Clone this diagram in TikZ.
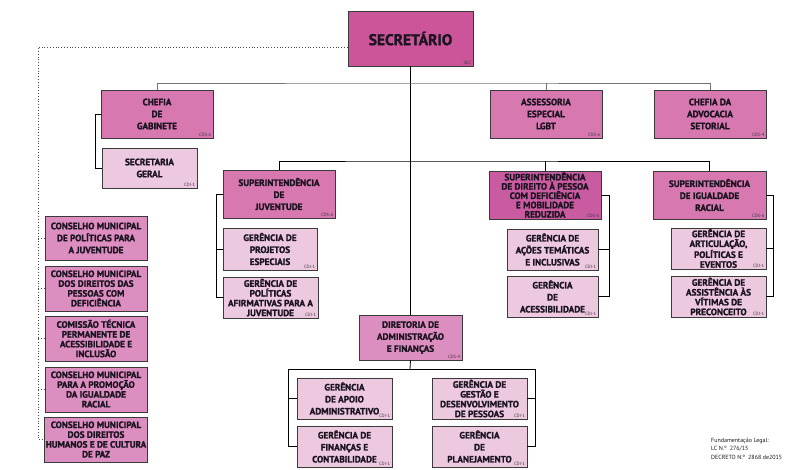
\documentclass[tikz,border=0pt]{standalone}
\usepackage{fontspec}
\setmainfont{PT Sans}[BoldFeatures={FakeBold=1.6}]
\usepackage{tikz}
\usetikzlibrary{positioning, shadows}
\definecolor{secpink}{HTML}{CC5599}
\definecolor{mainpink}{HTML}{D778B1}
\definecolor{deeppink}{HTML}{C95BA1}
\definecolor{conspink}{HTML}{DD8EC0}
\definecolor{lightpink}{HTML}{EDC9DF}
\definecolor{boxline}{HTML}{3A3A3A}
\definecolor{textdark}{HTML}{1C1420}
\tikzstyle{block} = [draw=boxline, line width=0.9pt, rectangle, align=center, inner sep=1pt, text=textdark, font=\bfseries\fontsize{9.2}{12}\selectfont, drop shadow={shadow xshift=0.8pt, shadow yshift=-0.8pt, fill=black!30}]
\tikzstyle{sup} = [block, fill=mainpink, minimum width=112pt, minimum height=48pt]
\tikzstyle{ger} = [block, fill=lightpink, minimum width=95pt, minimum height=41pt]
\tikzstyle{cons} = [block, fill=conspink, minimum width=102pt, minimum height=45pt]
\tikzstyle{tight} = [font=\bfseries\fontsize{9.2}{9.8}\selectfont]
\tikzstyle{tagtext} = [anchor=south east, inner sep=2pt, text=textdark!85, font=\fontsize{4.6}{5}\selectfont]
\tikzstyle{link} = [draw=black, line width=0.8pt]

\begin{document}
\begin{tikzpicture}[x=1pt, y=-1pt]
    \useasboundingbox (0,0) rectangle (801,469);
    % top
    \node[block, fill=secpink, minimum width=125pt, minimum height=55pt, font=\bfseries\fontsize{15.5}{17}\selectfont] (sec) at (410.5,38.5) {SECRETÁRIO};
    \node[tagtext] (sectag) at (sec.south east) {SEC};
    % second level
    \node[sup] (gab) at (157,114) {CHEFIA\\DE\\GABINETE};
    \node[tagtext] (gabtag) at (gab.south east) {CDS-6};
    \node[ger, fill=lightpink, minimum width=95pt, minimum height=40pt] (sg) at (149.5,168) {SECRETARIA\\GERAL};
    \node[tagtext] (sgtag) at (sg.south east) {CDI-1};
    \node[sup] (lgbt) at (546,114) {ASSESSORIA\\ESPECIAL\\LGBT};
    \node[tagtext] (lgbttag) at (lgbt.south east) {CDS-6};
    \node[sup] (adv) at (710,114) {CHEFIA DA\\ADVOCACIA\\SETORIAL};
    \node[tagtext] (advtag) at (adv.south east) {CDS-4};
    % superintendencias
    \node[sup] (juv) at (279,194) {SUPERINTENDÊNCIA\\DE\\JUVENTUDE};
    \node[tagtext] (juvtag) at (juv.south east) {CDS-6};
    \node[sup, fill=deeppink, font=\bfseries\fontsize{9.2}{9.3}\selectfont] (pcd) at (545,195) {SUPERINTENDÊNCIA\\DE DIREITO À PESSOA\\COM DEFICIÊNCIA\\E MOBILIDADE\\REDUZIDA};
    \node[tagtext] (pcdtag) at (pcd.south east) {CDS-6};
    \node[sup, minimum width=113pt] (rac) at (709.5,195) {SUPERINTENDÊNCIA\\DE IGUALDADE\\RACIAL};
    \node[tagtext] (ractag) at (rac.south east) {CDS-6};
    % gerencias
    \node[ger, minimum width=94pt, minimum height=42pt] (gpe) at (270,249) {GERÊNCIA DE\\PROJETOS\\ESPECIAIS};
    \node[tagtext] (gpetag) at (gpe.south east) {CDI-1};
    \node[ger, tight] (gpa) at (270.5,297.5) {GERÊNCIA DE\\POLÍTICAS\\AFIRMATIVAS PARA A\\JUVENTUDE};
    \node[tagtext] (gpatag) at (gpa.south east) {CDI-1};
    \node[ger, minimum width=91pt] (gat) at (552.5,249.5) {GERÊNCIA DE\\AÇÕES TEMÁTICAS\\E INCLUSIVAS};
    \node[tagtext] (gattag) at (gat.south east) {CDI-1};
    \node[ger, minimum width=91pt] (gac) at (552.5,296.5) {GERÊNCIA\\DE\\ACESSIBILIDADE};
    \node[tagtext] (gactag) at (gac.south east) {CDI-1};
    \node[ger, tight] (gar) at (718.5,248.5) {GERÊNCIA DE\\ARTICULAÇÃO,\\POLÍTICAS E\\EVENTOS};
    \node[tagtext] (gartag) at (gar.south east) {CDI-1};
    \node[ger, tight] (gav) at (718.5,296.5) {GERÊNCIA DE\\ASSISTÊNCIA ÀS\\VÍTIMAS DE\\PRECONCEITO};
    \node[tagtext] (gavtag) at (gav.south east) {CDI-1};
    % diretoria
    \node[block, fill=conspink, minimum width=103pt, minimum height=45pt] (daf) at (410.5,337.5) {DIRETORIA DE\\ADMINISTRAÇÃO\\E FINANÇAS};
    \node[tagtext] (daftag) at (daf.south east) {CDS-4};
    \node[ger] (gaa) at (344.5,398.5) {GERÊNCIA\\DE APOIO\\ADMINISTRATIVO};
    \node[tagtext] (gaatag) at (gaa.south east) {CDI-1};
    \node[ger] (gfc) at (344.5,446.5) {GERÊNCIA DE\\FINANÇAS E\\CONTABILIDADE};
    \node[tagtext] (gfctag) at (gfc.south east) {CDI-1};
    \node[ger, tight] (ggp) at (479.5,398.5) {GERÊNCIA DE\\GESTÃO E\\DESENVOLVIMENTO\\DE PESSOAS};
    \node[tagtext] (ggptag) at (ggp.south east) {CDI-1};
    \node[ger] (gpl) at (479.5,446.5) {GERÊNCIA\\DE\\PLANEJAMENTO};
    \node[tagtext] (gpltag) at (gpl.south east) {CDI-1};
    % conselhos
    \node[cons, minimum height=44pt] (c1) at (96,238) {CONSELHO MUNICIPAL\\DE POLÍTICAS PARA\\A JUVENTUDE};
    \node[cons, tight] (c2) at (96,288.5) {CONSELHO MUNICIPAL\\DOS DIREITOS DAS\\PESSOAS COM\\DEFICIÊNCIA};
    \node[cons, tight] (c3) at (96,338.5) {COMISSÃO TÉCNICA\\PERMANENTE DE\\ACESSIBILIDADE E\\INCLUSÃO};
    \node[cons, tight] (c4) at (96,389.5) {CONSELHO MUNICIPAL\\PARA A PROMOÇÃO\\DA IGUALDADE\\RACIAL};
    \node[cons, tight] (c5) at (96,439.5) {CONSELHO MUNICIPAL\\DOS DIREITOS\\HUMANOS E DE CULTURA\\DE PAZ};
    % legal note
    \node[anchor=north west, align=left, inner sep=0pt, text=textdark, font=\fontsize{6}{8.5}\selectfont] (legal) at (711,438) {Fundamentação Legal:\\LC N.º~~276/15\\DECRETO N.º~~2868 de2015};
    % buses
    \coordinate (bus1) at (410,83);
    \coordinate (bus2) at (410,161);
    \coordinate (bus3) at (410,369);
    \coordinate (dotc) at (38,47);
    % connectors
    \draw[link] (sec.south) -- (daf.north);
    \draw[link, draw=black!55, line width=1pt] (gab.north) |- (bus1) -| (adv.north);
    \draw[link, draw=black!55, line width=1pt] (lgbt.north) -- (lgbt.north |- bus1);
    \draw[link] (gab.west) -- ++(-5,0) |- (sg.west);
    \draw[link] (juv.north) |- (bus2) -| (rac.north);
    \draw[link] (pcd.north) -- (pcd.north |- bus2);
    \draw[link] (juv.west) -- ++(-6,0) |- (gpa.west);
    \draw[link] (gpe.west) -- ++(-6,0);
    \draw[link] (pcd.east) -- ++(8,0) |- (gac.east);
    \draw[link] (gat.east) -- ++(11,0);
    \draw[link] (rac.east) -- ++(7,0) |- (gav.east);
    \draw[link] (gar.east) -- ++(7,0);
    \draw[link] (daf.south) -- (bus3);
    \draw[link] (gfc.west) -- ++(-8,0) |- (bus3);
    \draw[link] (gpl.east) -- ++(8,0) |- (bus3);
    \draw[link] (gaa.west) -- ++(-8,0);
    \draw[link] (ggp.east) -- ++(8,0);
    % dotted links to conselhos
    \draw[dotted, line width=0.8pt, draw=black!70] (sec.west |- dotc) -- (dotc) |- (c5.west);
    \foreach \c in {c1,c2,c3,c4}
        \draw[dotted, line width=0.8pt, draw=black!70] (\c.west) -- (\c.west -| dotc);
\end{tikzpicture}
\end{document}
